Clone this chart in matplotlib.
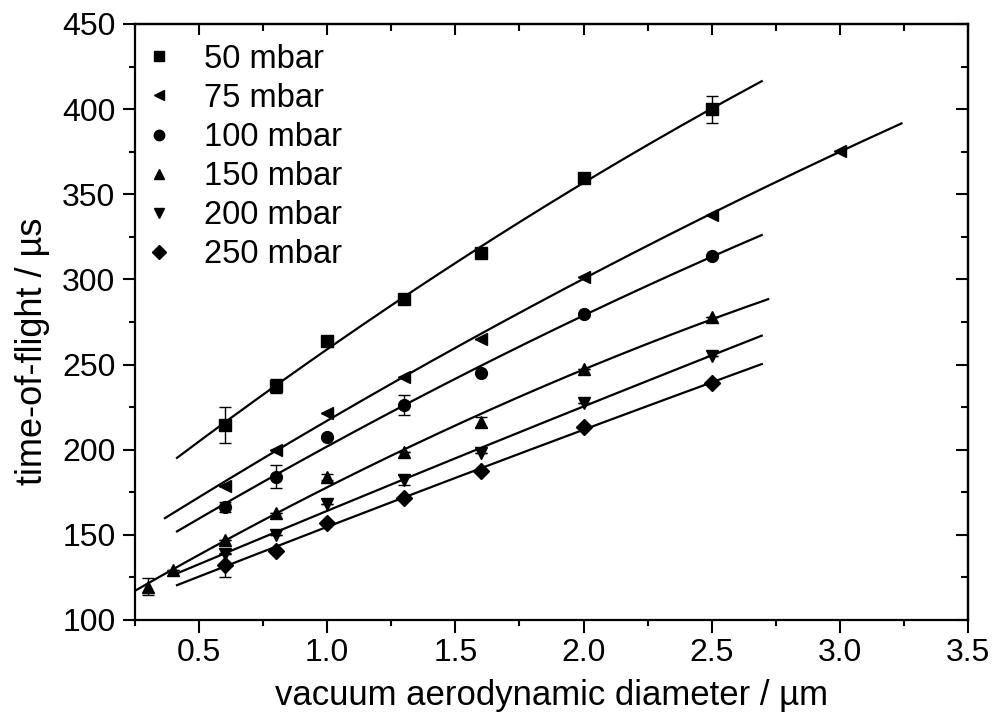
import numpy as np
import matplotlib
matplotlib.use("Agg")
import matplotlib.pyplot as plt
from matplotlib.lines import Line2D
from matplotlib.ticker import MultipleLocator, FormatStrFormatter

plt.rcParams['font.family'] = ['Liberation Sans', 'DejaVu Sans']

# pressures and their markers
labels = ['50 mbar', '75 mbar', '100 mbar', '150 mbar', '200 mbar', '250 mbar']
markers = ['s', '<', 'o', '^', 'v', 'D']

x_50 = [0.6, 0.8, 1.0, 1.3, 1.6, 2.0, 2.5]
y_50 = [214.5, 237.4, 263.8, 288.5, 315.3, 359.5, 399.9]
e_50 = [10.3, 4, 0, 0, 0, 0, 8]

x_75 = [0.6, 0.8, 1.0, 1.3, 1.6, 2.0, 2.5, 3.0]
y_75 = [178.7, 199.8, 221.7, 242.9, 264.8, 301.6, 337.8, 375.6]
e_75 = [0, 0, 0, 0, 0, 0, 0, 0]

x_100 = [0.6, 0.8, 1.0, 1.3, 1.6, 2.0, 2.5]
y_100 = [166.5, 184.1, 207.6, 226.2, 245.2, 279.7, 313.7]
e_100 = [3, 6.8, 0, 5.9, 0, 0, 0]

x_150 = [0.3, 0.4, 0.6, 0.8, 1.0, 1.3, 1.6, 2.0, 2.5]
y_150 = [119.6, 129.4, 147.0, 163.0, 184.0, 198.8, 216.4, 247.2, 277.7]
e_150 = [5, 0, 0, 0, 2, 0, 3, 0, 0]

x_200 = [0.6, 0.8, 1.0, 1.3, 1.6, 2.0, 2.5]
y_200 = [138.8, 149.9, 168.0, 182.2, 197.9, 227.6, 255.0]
e_200 = [0, 0, 0, 3, 0, 0, 0]

x_250 = [0.6, 0.8, 1.0, 1.3, 1.6, 2.0, 2.5]
y_250 = [132.3, 140.7, 157.0, 171.5, 187.6, 213.5, 239.0]
e_250 = [7, 0, 0, 0, 0, 0, 0]

# range covered by each fit curve
fit_start = [0.414, 0.367, 0.414, 0.25, 0.414, 0.414]
fit_end = [2.695, 3.24, 2.695, 2.72, 2.695, 2.695]

xs = [x_50, x_75, x_100, x_150, x_200, x_250]
ys = [y_50, y_75, y_100, y_150, y_200, y_250]
es = [e_50, e_75, e_100, e_150, e_200, e_250]

fig = plt.figure(figsize=(9.96, 7.19), dpi=100)
ax = fig.add_axes([0.1355, 0.1377, 0.8365, 0.829])

handles = []
for i in range(len(labels)):
    x = np.array(xs[i])
    y = np.array(ys[i])
    # smooth fit through the points
    p = np.polyfit(x, y, 2)
    xf = np.linspace(fit_start[i], fit_end[i], 200)
    ax.plot(xf, np.polyval(p, xf), color='black', lw=1.6, zorder=2)
    ax.errorbar(x, y, yerr=es[i], fmt=markers[i], color='black', ms=8.5,
                ecolor='black', elinewidth=1, capsize=4, capthick=1, zorder=3)
    handles.append(Line2D([], [], ls='none', marker=markers[i], color='black',
                          ms=7.5, label=labels[i]))

ax.set_xlim(0.25, 3.5)
ax.set_ylim(100, 450)
ax.xaxis.set_major_locator(MultipleLocator(0.5))
ax.xaxis.set_minor_locator(MultipleLocator(0.25))
ax.yaxis.set_major_locator(MultipleLocator(50))
ax.yaxis.set_minor_locator(MultipleLocator(25))
ax.xaxis.set_major_formatter(FormatStrFormatter('%.1f'))

for s in ax.spines.values():
    s.set_linewidth(1.6)

# bottom/left ticks point out, top/right ticks point in
ax.tick_params(which='both', direction='out', width=1.5, labelsize=23,
               top=False, right=False)
ax.tick_params(which='major', length=9)
ax.tick_params(which='minor', length=4)
ax.tick_params(axis='x', pad=4)
ax.tick_params(axis='y', pad=5)

ax2 = ax.secondary_xaxis('top')
ax2.xaxis.set_major_locator(MultipleLocator(0.5))
ax2.xaxis.set_minor_locator(MultipleLocator(0.25))
ax2.tick_params(which='both', direction='in', width=1.5, labeltop=False)
ax2.tick_params(which='major', length=8)
ax2.tick_params(which='minor', length=5)
ax2.spines['top'].set_linewidth(1.6)

ax3 = ax.secondary_yaxis('right')
ax3.yaxis.set_major_locator(MultipleLocator(50))
ax3.yaxis.set_minor_locator(MultipleLocator(25))
ax3.tick_params(which='both', direction='in', width=1.5, labelright=False)
ax3.tick_params(which='major', length=9)
ax3.tick_params(which='minor', length=5)
ax3.spines['right'].set_linewidth(1.6)

ax.set_xlabel('vacuum aerodynamic diameter / µm', fontsize=25, labelpad=8)
ax.set_ylabel('time-of-flight / µs', fontsize=26)
ax.yaxis.set_label_coords(-0.102, 0.45)

ax.legend(handles=handles, loc='upper left', bbox_to_anchor=(0.009, 0.967),
          frameon=False, fontsize=23.5, handletextpad=0.9, labelspacing=0.25,
          borderaxespad=0, handlelength=1.0, borderpad=0)

fig.savefig('out.png', dpi=100)
